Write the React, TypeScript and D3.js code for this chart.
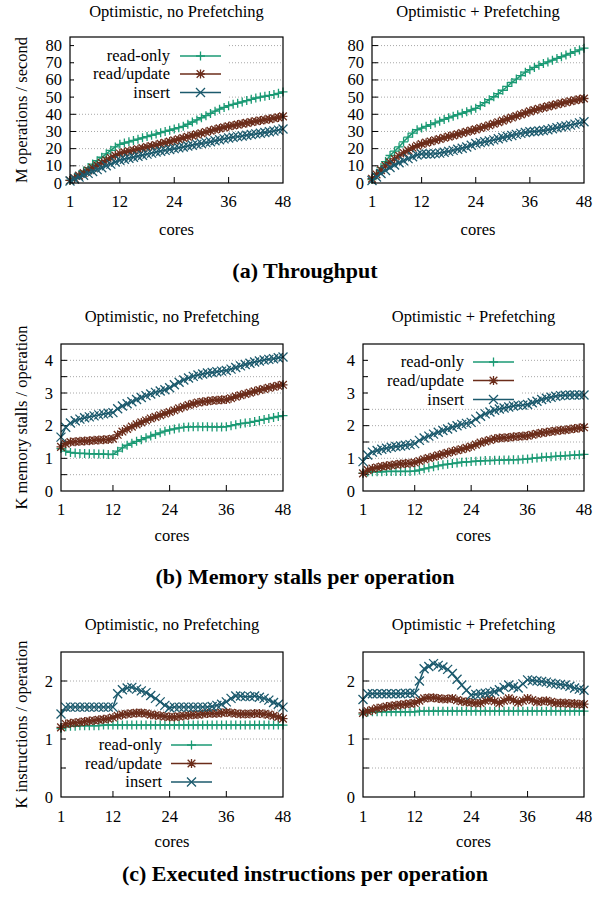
import React, { useEffect, useRef } from 'react';
import * as d3 from 'd3';

const cores = d3.range(1, 49);

// (a) throughput, M operations / second
const tputNoPfReadOnly = [1.5, 3, 5, 7, 9, 11, 13, 15, 17, 19, 21, 22.5, 23.3, 24, 24.8, 25.5, 26.3, 27, 27.8, 28.5, 29.3, 30, 30.7, 31.5, 32.2, 33, 34.2, 35.5, 36.7, 38, 39.2, 40.5, 41.8, 43, 44, 45, 45.8, 46.5, 47.2, 48, 48.7, 49.5, 50, 50.5, 51, 51.5, 52.2, 53];
const tputNoPfReadUpdate = [1.5, 2.8, 4.3, 5.8, 7.3, 8.8, 10.3, 11.8, 13.2, 14.6, 16, 17.2, 17.9, 18.5, 19.1, 19.7, 20.3, 20.9, 21.5, 22.1, 22.8, 23.4, 24.1, 24.8, 25.5, 26.2, 26.9, 27.6, 28.3, 29, 29.7, 30.4, 31.1, 31.8, 32.4, 33, 33.5, 34, 34.5, 35, 35.5, 36, 36.4, 36.8, 37.2, 37.7, 38.2, 38.8];
const tputNoPfInsert = [1.2, 2.3, 3.4, 4.5, 5.6, 6.7, 7.8, 8.9, 10, 11, 12.2, 13.2, 13.8, 14.4, 15, 15.6, 16.2, 16.8, 17.4, 18, 18.5, 19, 19.5, 20, 20.5, 21, 21.5, 22, 22.5, 23, 23.5, 24, 24.6, 25.2, 25.7, 26.2, 26.6, 27, 27.4, 27.8, 28.2, 28.6, 29, 29.4, 29.8, 30.3, 30.8, 31.4];
const tputPfReadOnly = [2, 5.5, 9, 12.5, 16, 18.5, 21, 24, 26.7, 29, 31, 32, 33, 34, 35, 36, 37, 38, 38.9, 39.8, 40.6, 41.5, 42.5, 43.5, 45, 46.8, 48.5, 50.2, 52, 54, 56.2, 58.5, 60.5, 62.5, 64.5, 66, 67.3, 68.5, 69.5, 70.5, 71.5, 72.5, 73.5, 74.5, 75.5, 76.5, 77.5, 78.5];
const tputPfReadUpdate = [2.5, 5, 7.5, 10, 12, 14, 15.8, 17.5, 19, 20.5, 21.7, 22.7, 23.5, 24.2, 24.9, 25.6, 26.3, 27, 27.7, 28.4, 29.1, 29.8, 30.5, 31.2, 32, 32.8, 33.6, 34.5, 35.4, 36.3, 37.2, 38.1, 39, 39.9, 40.8, 41.7, 42.5, 43.2, 43.9, 44.6, 45.2, 45.8, 46.4, 47, 47.6, 48.2, 48.7, 49.2];
const tputPfInsert = [1.5, 3.5, 5.5, 7.3, 9, 10.5, 11.8, 13, 14.2, 15.3, 16.3, 16.9, 16.9, 16.9, 17.1, 17.4, 17.9, 18.4, 19, 19.6, 20.2, 21, 22, 23, 23.5, 24, 24.5, 25.1, 25.8, 26.5, 27.1, 27.7, 28.3, 28.9, 29.4, 29.8, 30, 30.3, 30.6, 31, 31.6, 32.2, 32.7, 33.2, 33.7, 34.3, 35, 35.7];

// (b) K memory stalls / operation
const stallNoPfReadOnly = [1.3, 1.22, 1.18, 1.16, 1.15, 1.15, 1.14, 1.14, 1.13, 1.13, 1.12, 1.12, 1.22, 1.32, 1.4, 1.46, 1.52, 1.57, 1.63, 1.68, 1.73, 1.78, 1.83, 1.87, 1.9, 1.93, 1.95, 1.96, 1.97, 1.97, 1.97, 1.97, 1.96, 1.96, 1.96, 1.97, 2.0, 2.03, 2.06, 2.08, 2.1, 2.13, 2.16, 2.19, 2.22, 2.25, 2.28, 2.31];
const stallNoPfReadUpdate = [1.35, 1.45, 1.5, 1.51, 1.52, 1.53, 1.54, 1.55, 1.56, 1.57, 1.58, 1.6, 1.72, 1.82, 1.9, 1.97, 2.04, 2.1, 2.16, 2.22, 2.27, 2.32, 2.37, 2.42, 2.47, 2.53, 2.58, 2.63, 2.67, 2.71, 2.73, 2.75, 2.77, 2.78, 2.79, 2.8, 2.84, 2.89, 2.93, 2.97, 3.01, 3.05, 3.09, 3.12, 3.16, 3.19, 3.22, 3.25];
const stallNoPfInsert = [1.65, 1.95, 2.08, 2.15, 2.2, 2.24, 2.27, 2.3, 2.33, 2.36, 2.38, 2.4, 2.52, 2.6, 2.67, 2.73, 2.8, 2.86, 2.92, 2.97, 3.02, 3.06, 3.1, 3.16, 3.25, 3.33, 3.4, 3.46, 3.51, 3.55, 3.58, 3.61, 3.63, 3.65, 3.67, 3.69, 3.73, 3.78, 3.83, 3.87, 3.91, 3.95, 3.98, 4.01, 4.03, 4.05, 4.08, 4.1];
const stallPfReadOnly = [0.55, 0.58, 0.59, 0.59, 0.59, 0.6, 0.6, 0.6, 0.6, 0.6, 0.6, 0.61, 0.64, 0.68, 0.71, 0.74, 0.77, 0.8, 0.82, 0.84, 0.86, 0.88, 0.89, 0.9, 0.91, 0.92, 0.93, 0.93, 0.94, 0.94, 0.95, 0.95, 0.96, 0.96, 0.97, 0.98, 1.0, 1.01, 1.03, 1.04, 1.05, 1.06, 1.07, 1.08, 1.09, 1.1, 1.11, 1.12];
const stallPfReadUpdate = [0.54, 0.64, 0.69, 0.72, 0.75, 0.77, 0.79, 0.81, 0.83, 0.84, 0.85, 0.87, 0.92, 0.97, 1.01, 1.05, 1.09, 1.13, 1.17, 1.21, 1.25, 1.28, 1.32, 1.36, 1.42, 1.48, 1.52, 1.56, 1.6, 1.62, 1.63, 1.64, 1.66, 1.67, 1.68, 1.69, 1.72, 1.75, 1.78, 1.8, 1.82, 1.84, 1.86, 1.87, 1.89, 1.91, 1.93, 1.95];
const stallPfInsert = [0.9, 1.1, 1.19, 1.24, 1.28, 1.31, 1.34, 1.36, 1.38, 1.4, 1.42, 1.45, 1.55, 1.62, 1.68, 1.74, 1.8, 1.85, 1.9, 1.95, 2.0, 2.04, 2.07, 2.1, 2.2, 2.29, 2.36, 2.42, 2.47, 2.51, 2.54, 2.57, 2.6, 2.62, 2.63, 2.65, 2.7, 2.75, 2.8, 2.84, 2.87, 2.9, 2.92, 2.93, 2.94, 2.94, 2.94, 2.94];

// (c) K instructions / operation
const instrNoPfReadOnly = [1.18, 1.21, 1.22, 1.22, 1.23, 1.23, 1.23, 1.23, 1.23, 1.24, 1.24, 1.24, 1.24, 1.24, 1.24, 1.24, 1.24, 1.24, 1.24, 1.24, 1.24, 1.24, 1.24, 1.24, 1.24, 1.24, 1.24, 1.24, 1.24, 1.24, 1.24, 1.24, 1.24, 1.24, 1.24, 1.24, 1.24, 1.24, 1.24, 1.24, 1.24, 1.24, 1.24, 1.24, 1.24, 1.24, 1.24, 1.24];
const instrNoPfReadUpdate = [1.2, 1.26, 1.27, 1.28, 1.29, 1.3, 1.31, 1.32, 1.33, 1.34, 1.35, 1.37, 1.4, 1.42, 1.43, 1.44, 1.45, 1.45, 1.44, 1.42, 1.41, 1.4, 1.39, 1.38, 1.38, 1.39, 1.4, 1.41, 1.42, 1.42, 1.43, 1.44, 1.44, 1.44, 1.45, 1.46, 1.45, 1.44, 1.43, 1.43, 1.43, 1.44, 1.44, 1.43, 1.42, 1.4, 1.38, 1.35];
const instrNoPfInsert = [1.43, 1.55, 1.55, 1.55, 1.55, 1.55, 1.55, 1.55, 1.55, 1.55, 1.55, 1.55, 1.78, 1.85, 1.88, 1.89, 1.86, 1.83, 1.8, 1.75, 1.7, 1.64, 1.58, 1.54, 1.55, 1.55, 1.55, 1.55, 1.55, 1.55, 1.55, 1.55, 1.56, 1.58, 1.6, 1.64, 1.7, 1.74, 1.74, 1.73, 1.73, 1.74, 1.72, 1.7, 1.67, 1.63, 1.6, 1.55];
const instrPfReadOnly = [1.43, 1.46, 1.47, 1.47, 1.47, 1.47, 1.47, 1.47, 1.47, 1.47, 1.47, 1.47, 1.48, 1.48, 1.48, 1.48, 1.48, 1.48, 1.48, 1.48, 1.48, 1.48, 1.48, 1.48, 1.48, 1.48, 1.48, 1.48, 1.48, 1.48, 1.48, 1.48, 1.48, 1.48, 1.48, 1.48, 1.48, 1.48, 1.48, 1.48, 1.48, 1.48, 1.48, 1.48, 1.48, 1.48, 1.48, 1.48];
const instrPfReadUpdate = [1.45, 1.48, 1.5, 1.53, 1.54, 1.56, 1.57, 1.58, 1.59, 1.6, 1.61, 1.62, 1.66, 1.7, 1.71, 1.71, 1.7, 1.69, 1.69, 1.7, 1.67, 1.65, 1.64, 1.63, 1.62, 1.62, 1.66, 1.68, 1.65, 1.62, 1.66, 1.7, 1.67, 1.63, 1.66, 1.7, 1.67, 1.64, 1.65, 1.66, 1.64, 1.62, 1.62, 1.62, 1.61, 1.61, 1.6, 1.6];
const instrPfInsert = [1.68, 1.78, 1.78, 1.78, 1.78, 1.78, 1.78, 1.78, 1.78, 1.79, 1.79, 1.79, 2.0, 2.21, 2.25, 2.3, 2.27, 2.24, 2.2, 2.13, 2.03, 1.93, 1.84, 1.76, 1.77, 1.78, 1.79, 1.8, 1.82, 1.85, 1.89, 1.93, 1.9, 1.88, 1.95, 2.02, 2.01, 2.0, 1.99, 1.98, 1.96, 1.95, 1.94, 1.93, 1.91, 1.88, 1.86, 1.84];

const seriesNames = ['read-only', 'read/update', 'insert'];
const xTicks = [1, 12, 24, 36, 48];
const panelTitles = ['Optimistic, no Prefetching', 'Optimistic + Prefetching'];
const yLabels = ['M operations / second', 'K memory stalls / operation', 'K instructions / operation'];
const captions = ['(a) Throughput', '(b) Memory stalls per operation', '(c) Executed instructions per operation'];

const colors = ['#1b9a74', '#6b2c1a', '#1c5a6d'];
const FONT = '"Liberation Serif", "Times New Roman", serif';

type Legend = { textX: number; lineX0: number; lineX1: number; rows: number[]; box: [number, number, number, number] };
type Panel = {
  left: number; right: number; top: number; bottom: number;
  yMax: number; yTicks: number[]; yGrid: number[];
  series: number[][];
  title: string; titleY: number; tickY: number; coresY: number;
  yLabel?: string; legend?: Legend;
};

const panels: Panel[] = [
  { left: 70, right: 283, top: 37, bottom: 183, yMax: 85, yTicks: d3.range(0, 81, 10), yGrid: d3.range(10, 81, 10),
    series: [tputNoPfReadOnly, tputNoPfReadUpdate, tputNoPfInsert], title: panelTitles[0], titleY: 17, tickY: 207, coresY: 235,
    yLabel: yLabels[0], legend: { textX: 170, lineX0: 180, lineX1: 221, rows: [56, 74, 92.5], box: [74, 45, 228, 101] } },
  { left: 372, right: 584, top: 37, bottom: 183, yMax: 85, yTicks: d3.range(0, 81, 10), yGrid: d3.range(10, 81, 10),
    series: [tputPfReadOnly, tputPfReadUpdate, tputPfInsert], title: panelTitles[1], titleY: 17, tickY: 207, coresY: 235 },
  { left: 61, right: 283, top: 344, bottom: 491, yMax: 4.5, yTicks: d3.range(0, 4.1, 1), yGrid: d3.range(0.5, 4.1, 0.5),
    series: [stallNoPfReadOnly, stallNoPfReadUpdate, stallNoPfInsert], title: panelTitles[0], titleY: 322, tickY: 515, coresY: 541,
    yLabel: yLabels[1] },
  { left: 363, right: 584, top: 344, bottom: 491, yMax: 4.5, yTicks: d3.range(0, 4.1, 1), yGrid: d3.range(0.5, 4.1, 0.5),
    series: [stallPfReadOnly, stallPfReadUpdate, stallPfInsert], title: panelTitles[1], titleY: 322, tickY: 515, coresY: 541,
    legend: { textX: 464, lineX0: 473, lineX1: 514, rows: [362, 380.5, 399.5], box: [368, 351, 522, 407] } },
  { left: 61, right: 283, top: 652, bottom: 797, yMax: 2.5, yTicks: [0, 1, 2], yGrid: [0.5, 1, 1.5, 2],
    series: [instrNoPfReadOnly, instrNoPfReadUpdate, instrNoPfInsert], title: panelTitles[0], titleY: 630, tickY: 822, coresY: 847,
    yLabel: yLabels[2], legend: { textX: 162, lineX0: 171, lineX1: 212, rows: [745, 763.5, 782], box: [66, 736, 220, 791] } },
  { left: 363, right: 584, top: 652, bottom: 797, yMax: 2.5, yTicks: [0, 1, 2], yGrid: [0.5, 1, 1.5, 2],
    series: [instrPfReadOnly, instrPfReadUpdate, instrPfInsert], title: panelTitles[1], titleY: 630, tickY: 822, coresY: 847 },
];
const captionY = [278, 584, 881];

const markerPath = (kind: number, r: number) => {
  const plus = `M${-r},0H${r}M0,${-r}V${r}`;
  const q = r * 0.85;
  const cross = `M${-q},${-q}L${q},${q}M${-q},${q}L${q},${-q}`;
  if (kind === 0) return plus;
  if (kind === 1) return plus + cross;
  return `M${-r},${-r}L${r},${r}M${-r},${r}L${r},${-r}`;
};

function drawPanel(svg: d3.Selection<SVGSVGElement, unknown, null, undefined>, p: Panel) {
  const x = d3.scaleLinear().domain([1, 48]).range([p.left, p.right]);
  const y = d3.scaleLinear().domain([0, p.yMax]).range([p.bottom, p.top]);
  const g = svg.append('g');

  // grid
  g.selectAll('line.grid')
    .data(p.yGrid)
    .enter()
    .append('line')
    .attr('x1', p.left)
    .attr('x2', p.right)
    .attr('y1', d => y(d))
    .attr('y2', d => y(d))
    .attr('stroke', '#a8a8a8')
    .attr('stroke-width', 1)
    .attr('stroke-dasharray', '1,2');

  // ticks (inward)
  g.selectAll('line.ytick')
    .data(p.yGrid)
    .enter()
    .append('line')
    .attr('x1', p.left)
    .attr('x2', p.left + 6)
    .attr('y1', d => y(d))
    .attr('y2', d => y(d))
    .attr('stroke', '#000');
  g.selectAll('line.xtick')
    .data(xTicks.slice(1, -1))
    .enter()
    .append('line')
    .attr('x1', d => x(d))
    .attr('x2', d => x(d))
    .attr('y1', p.bottom)
    .attr('y2', p.bottom - 6)
    .attr('stroke', '#000');

  // legend background masks the grid
  if (p.legend) {
    const [bx0, by0, bx1, by1] = p.legend.box;
    g.append('rect')
      .attr('x', bx0)
      .attr('y', by0)
      .attr('width', bx1 - bx0)
      .attr('height', by1 - by0)
      .attr('fill', '#fff');
  }

  const line = d3
    .line<number>()
    .x((_, i) => x(cores[i]))
    .y(d => y(d));

  p.series.forEach((vals, si) => {
    g.append('path')
      .datum(vals)
      .attr('fill', 'none')
      .attr('stroke', colors[si])
      .attr('stroke-width', 1.5)
      .attr('d', line);
    g.append('g')
      .selectAll('path')
      .data(vals)
      .enter()
      .append('path')
      .attr('transform', (d, i) => `translate(${x(cores[i])},${y(d)})`)
      .attr('d', markerPath(si, 4.5))
      .attr('fill', 'none')
      .attr('stroke', colors[si])
      .attr('stroke-width', 1.3);
  });

  // border
  g.append('rect')
    .attr('x', p.left)
    .attr('y', p.top)
    .attr('width', p.right - p.left)
    .attr('height', p.bottom - p.top)
    .attr('fill', 'none')
    .attr('stroke', '#000')
    .attr('stroke-width', 1.2);

  const text = (tx: number, ty: number, s: string, anchor = 'middle') =>
    g.append('text')
      .attr('x', tx)
      .attr('y', ty)
      .attr('text-anchor', anchor)
      .attr('font-family', FONT)
      .attr('font-size', 16.5)
      .attr('fill', '#000')
      .text(s);

  xTicks.forEach(t => text(x(t), p.tickY, String(t)));
  p.yTicks.forEach(t => text(p.left - 8, y(t) + 5.5, String(t), 'end'));
  text((p.left + p.right) / 2, p.titleY, p.title);
  text((p.left + p.right) / 2, p.coresY, 'cores');

  if (p.yLabel) {
    g.append('text')
      .attr('transform', `translate(27,${(p.top + p.bottom) / 2}) rotate(-90)`)
      .attr('text-anchor', 'middle')
      .attr('font-family', FONT)
      .attr('font-size', 16.5)
      .text(p.yLabel);
  }

  if (p.legend) {
    const lg = p.legend;
    seriesNames.forEach((name, si) => {
      const ry = lg.rows[si];
      text(lg.textX, ry + 5, name, 'end');
      g.append('line')
        .attr('x1', lg.lineX0)
        .attr('x2', lg.lineX1)
        .attr('y1', ry)
        .attr('y2', ry)
        .attr('stroke', colors[si])
        .attr('stroke-width', 1.5);
      g.append('path')
        .attr('transform', `translate(${(lg.lineX0 + lg.lineX1) / 2},${ry})`)
        .attr('d', markerPath(si, 4.5))
        .attr('fill', 'none')
        .attr('stroke', colors[si])
        .attr('stroke-width', 1.3);
    });
  }
}

export default function App() {
  const ref = useRef<SVGSVGElement>(null);

  useEffect(() => {
    if (!ref.current) return;
    const svg = d3.select(ref.current);
    svg.selectAll('*').remove();

    panels.forEach(p => drawPanel(svg, p));

    svg.selectAll('text.caption')
      .data(captions)
      .enter()
      .append('text')
      .attr('class', 'caption')
      .attr('x', 305)
      .attr('y', (_, i) => captionY[i])
      .attr('text-anchor', 'middle')
      .attr('font-family', FONT)
      .attr('font-weight', 'bold')
      .attr('font-size', 22)
      .text(d => d);
  }, []);

  return (
    <svg
      ref={ref}
      width={611}
      height={901}
      style={{ position: 'absolute', left: 0, top: 0, background: '#fff' }}
    />
  );
}
